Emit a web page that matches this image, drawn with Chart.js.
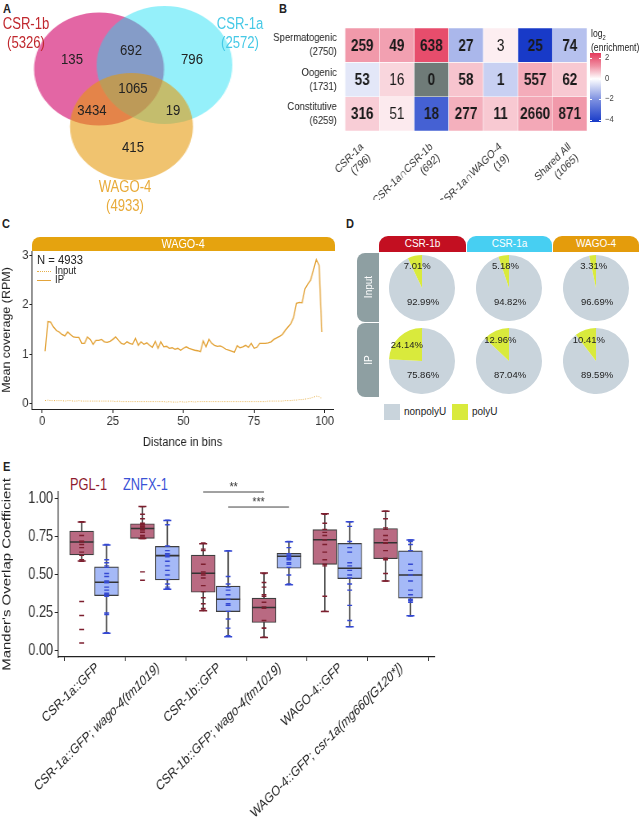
<!DOCTYPE html>
<html>
<head>
<meta charset="utf-8">
<script src="https://cdn.jsdelivr.net/npm/chart.js@4.4.1/dist/chart.umd.min.js"></script>
<style>
  body { margin: 0; width: 641px; height: 822px; position: relative; background: #fff; overflow: hidden;
         font-family: "Liberation Sans", Arial, sans-serif; color: #222; }
  canvas, .t, .box { position: absolute; }
  .t { white-space: nowrap; line-height: 1.1; transform-origin: 0 0; }
  .panel { font-weight: bold; font-size: 13px; transform: scaleX(0.85); }
  .strip { position: absolute; color: #fff; text-align: center; font-size: 10px; }
</style>
</head>
<body>

<div class="t panel" style="left:3px;top:2px">A</div>
<div class="t panel" style="left:279px;top:2px">B</div>
<div class="t panel" style="left:2px;top:217px">C</div>
<div class="t panel" style="left:346px;top:217px">D</div>
<div class="t panel" style="left:3px;top:460px">E</div>

<!-- A: venn -->
<canvas id="venn" width="209" height="200" style="left:0;top:0;transform:scaleX(1.15);transform-origin:0 0"></canvas>
<div id="vennText"></div>

<!-- B: heatmap -->
<canvas id="heat" width="439" height="200" style="left:230px;top:0;transform:scaleX(0.82);transform-origin:0 0"></canvas>
<div class="t" style="left:591px;top:28px;font-size:10.5px;transform:scaleX(0.82)">log<sub style="font-size:7px">2</sub><br>(enrichment)</div>
<div id="cbar" class="box" style="left:590px;top:53px;width:11px;height:69px"></div>
<div id="cbarTicks"></div>

<!-- C: profile -->
<div class="strip" style="left:32px;top:237px;width:303px;height:14px;line-height:14px;font-size:12px;background:#e5a30f;border-radius:8px 8px 0 0"><span style="display:inline-block;transform:scaleX(0.9)">WAGO-4</span></div>
<canvas id="profile" width="378" height="220" style="left:0;top:230px;transform:scaleX(0.9);transform-origin:0 0"></canvas>
<div class="t" style="left:37px;top:254px;font-size:12.5px;transform:scaleX(0.9)">N = 4933</div>
<div class="box" style="left:37px;top:271px;width:14px;border-top:1px dotted #e6b04a"></div>
<div class="t" style="left:55px;top:265px;font-size:10.5px;transform:scaleX(0.9)">Input</div>
<div class="box" style="left:37px;top:280px;width:14px;border-top:1.3px solid #e3a43b"></div>
<div class="t" style="left:55px;top:274px;font-size:10.5px;transform:scaleX(0.9)">IP</div>

<!-- D: pies -->
<div class="strip" style="left:379px;top:236px;width:87px;height:16px;line-height:16px;background:#c30f21;border-radius:9px 9px 0 0">CSR-1b</div>
<div class="strip" style="left:467px;top:236px;width:85px;height:16px;line-height:16px;background:#47cff2;border-radius:9px 9px 0 0">CSR-1a</div>
<div class="strip" style="left:553px;top:236px;width:86px;height:16px;line-height:16px;background:#e49c0c;border-radius:9px 9px 0 0">WAGO-4</div>
<div class="strip" style="left:357px;top:253px;width:22px;height:69px;background:#8e9fa2;border-radius:8px 0 0 8px"></div>
<div class="strip" style="left:357px;top:323px;width:22px;height:74px;background:#8e9fa2;border-radius:8px 0 0 8px"></div>
<div class="t" style="left:368px;top:287px;font-size:10px;color:#fff;transform:translate(-50%,-50%) rotate(-90deg);transform-origin:50% 50%">Input</div>
<div class="t" style="left:368px;top:360px;font-size:10px;color:#fff;transform:translate(-50%,-50%) rotate(-90deg);transform-origin:50% 50%">IP</div>
<div id="pies"></div>
<div class="box" style="left:384px;top:404px;width:16px;height:16px;background:#c9d4dc"></div>
<div class="t" style="left:404px;top:406px;font-size:10px">nonpolyU</div>
<div class="box" style="left:452px;top:404px;width:16px;height:16px;background:#d9ea3c"></div>
<div class="t" style="left:472px;top:406px;font-size:10px">polyU</div>

<!-- E: boxplots -->
<div class="t" style="left:70px;top:476px;font-size:16px;color:#8e1b2e;transform:scaleX(0.8)">PGL-1</div>
<div class="t" style="left:123px;top:476px;font-size:16px;color:#3a52d6;transform:scaleX(0.8)">ZNFX-1</div>
<canvas id="boxes" width="556" height="352" style="left:0;top:470px;transform:scaleX(0.8);transform-origin:0 0"></canvas>

<script>
// ---------- A: Venn ----------
const vennSets = ['CSR-1b', 'CSR-1a', 'WAGO-4'];
const vennTotals = [5326, 2572, 4933];
const vennRegions = ['CSR-1b', 'CSR-1b∩CSR-1a', 'CSR-1a', 'All', 'CSR-1b∩WAGO-4', 'CSR-1a∩WAGO-4', 'WAGO-4'];
const vennCounts = [135, 692, 796, 1065, 3434, 19, 415];

// ---------- B: heatmap ----------
const hmRows = ['Spermatogenic', 'Oogenic', 'Constitutive'];
const hmRowTotals = [2750, 1731, 6259];
const hmCols = ['CSR-1a', 'CSR-1b', 'CSR-1a∩CSR-1b', 'WAGO-4', 'CSR-1a∩WAGO-4', 'CSR-1b∩WAGO-4', 'Shared All'];
const hmColTotals = [796, 135, 692, 415, 19, 3434, 1065];
const spermCounts = [259, 49, 638, 27, 3, 25, 74];
const oogenicCounts = [53, 16, 0, 58, 1, 557, 62];
const constitutiveCounts = [316, 51, 18, 277, 11, 2660, 871];
const spermLog2 = [1.1, 1.0, 2.2, -1.2, 0.12, -4.2, -1.0];
const oogenicLog2 = [-0.3, 0.35, null, 0.55, -0.7, 0.85, 0.5];
const constitutiveLog2 = [0.45, 0.15, -3.2, 0.8, 0.5, 0.9, 1.1];
const spermBold = [1, 1, 1, 1, 0, 1, 1];
const oogenicBold = [1, 0, 1, 1, 1, 1, 1];
const constitutiveBold = [1, 0, 1, 1, 1, 1, 1];
const cbarTicks = [2, 0, -2, -4];

// ---------- C: coverage profile ----------
const binIP = [1.06, 1.66, 1.65, 1.55, 1.48, 1.45, 1.40, 1.37, 1.45, 1.40,
  1.35, 1.34, 1.34, 1.22, 1.22, 1.35, 1.30, 1.20, 1.28, 1.28,
  1.30, 1.25, 1.24, 1.26, 1.30, 1.35, 1.28, 1.22, 1.20, 1.25,
  1.22, 1.20, 1.32, 1.18, 1.25, 1.20, 1.23, 1.18, 1.14, 1.26,
  1.12, 1.25, 1.15, 1.16, 1.12, 1.13, 1.10, 1.12, 1.08, 1.12,
  1.15, 1.12, 1.10, 1.08, 1.07, 1.05, 1.27, 1.15, 1.30, 1.22,
  1.18, 1.16, 1.17, 1.14, 1.10, 1.08, 1.06, 1.04, 1.17, 1.13,
  1.15, 1.18, 1.14, 1.22, 1.12, 1.14, 1.22, 1.22, 1.22, 1.23,
  1.25, 1.30, 1.33, 1.36, 1.40, 1.48, 1.55, 1.62, 1.75, 2.03,
  2.05, 2.04, 2.32, 2.42, 2.50, 2.70, 2.92, 2.80, 1.45];
const binInput = [0.06, 0.07, 0.06, 0.06, 0.06, 0.06, 0.06, 0.05, 0.06, 0.06,
  0.05, 0.05, 0.06, 0.05, 0.05, 0.05, 0.05, 0.05, 0.05, 0.05,
  0.05, 0.05, 0.05, 0.05, 0.05, 0.04, 0.05, 0.04, 0.04, 0.04,
  0.04, 0.04, 0.04, 0.04, 0.04, 0.04, 0.04, 0.04, 0.04, 0.04,
  0.04, 0.04, 0.04, 0.03, 0.04, 0.03, 0.03, 0.03, 0.04, 0.03,
  0.03, 0.04, 0.04, 0.03, 0.04, 0.04, 0.04, 0.04, 0.04, 0.04,
  0.04, 0.04, 0.04, 0.04, 0.04, 0.04, 0.04, 0.04, 0.04, 0.04,
  0.04, 0.04, 0.04, 0.04, 0.04, 0.04, 0.04, 0.04, 0.04, 0.05,
  0.05, 0.05, 0.05, 0.05, 0.05, 0.06, 0.06, 0.06, 0.07, 0.07,
  0.08, 0.08, 0.09, 0.10, 0.11, 0.13, 0.15, 0.14, 0.10];
const xTicksC = [0, 25, 50, 75, 100];
const yTicksC = [0, 1, 2, 3];

// ---------- D: pies ----------
const pieProteins = ['CSR-1b', 'CSR-1a', 'WAGO-4'];
const pieFractions = ['Input', 'IP'];
const polyUInput = [7.01, 5.18, 3.31];
const nonpolyUInput = [92.99, 94.82, 96.69];
const polyUIP = [24.14, 12.96, 10.41];
const nonpolyUIP = [75.86, 87.04, 89.59];

// ---------- E: boxplots ----------
const eCategories = ['CSR-1a::GFP', 'CSR-1a::GFP; wago-4(tm1019)', 'CSR-1b::GFP',
  'CSR-1b::GFP; wago-4(tm1019)', 'WAGO-4::GFP', 'WAGO-4::GFP; csr-1a(mg660[G120*])'];
const pglQ1 = [0.632, 0.741, 0.386, 0.187, 0.570, 0.607];
const pglMedian = [0.717, 0.806, 0.511, 0.286, 0.732, 0.712];
const pglQ3 = [0.789, 0.837, 0.631, 0.347, 0.798, 0.806];
const pglLow = [0.592, 0.740, 0.264, 0.089, 0.259, 0.461];
const pglHigh = [0.848, 0.951, 0.706, 0.513, 0.903, 0.920];
const znfxQ1 = [0.364, 0.467, 0.259, 0.544, 0.476, 0.347];
const znfxMedian = [0.452, 0.627, 0.340, 0.623, 0.544, 0.500];
const znfxQ3 = [0.553, 0.688, 0.426, 0.642, 0.708, 0.658];
const znfxLow = [0.117, 0.406, 0.093, 0.435, 0.159, 0.231];
const znfxHigh = [0.697, 0.859, 0.658, 0.719, 0.850, 0.730];
const pglPoints = [
  [0.85, 0.85, 0.76, 0.72, 0.72, 0.72, 0.70, 0.68, 0.65, 0.63, 0.60, 0.59, 0.325, 0.233, 0.141, 0.052],
  [0.95, 0.90, 0.87, 0.84, 0.83, 0.83, 0.82, 0.82, 0.81, 0.81, 0.80, 0.79, 0.78, 0.76, 0.75, 0.74, 0.52, 0.465],
  [0.71, 0.67, 0.66, 0.57, 0.52, 0.51, 0.50, 0.48, 0.43, 0.39, 0.35, 0.31, 0.28, 0.27],
  [0.51, 0.45, 0.42, 0.37, 0.36, 0.32, 0.29, 0.28, 0.20, 0.15, 0.15, 0.09],
  [0.90, 0.84, 0.80, 0.78, 0.76, 0.73, 0.70, 0.65, 0.60, 0.57, 0.56, 0.36, 0.26],
  [0.92, 0.87, 0.81, 0.80, 0.76, 0.73, 0.71, 0.71, 0.66, 0.61, 0.60, 0.51, 0.46]
];
const znfxPoints = [
  [0.70, 0.60, 0.58, 0.56, 0.55, 0.51, 0.49, 0.46, 0.45, 0.45, 0.42, 0.40, 0.38, 0.37, 0.37, 0.36, 0.25, 0.24, 0.12],
  [0.86, 0.83, 0.69, 0.69, 0.66, 0.64, 0.64, 0.63, 0.62, 0.59, 0.56, 0.53, 0.50, 0.47, 0.44, 0.42, 0.41],
  [0.66, 0.49, 0.44, 0.42, 0.40, 0.37, 0.34, 0.31, 0.30, 0.30, 0.26, 0.21, 0.15, 0.10],
  [0.72, 0.68, 0.64, 0.63, 0.62, 0.61, 0.61, 0.60, 0.58, 0.57, 0.55, 0.50, 0.44],
  [0.85, 0.82, 0.72, 0.68, 0.65, 0.58, 0.56, 0.53, 0.50, 0.48, 0.44, 0.40, 0.30, 0.20, 0.16],
  [0.73, 0.72, 0.70, 0.66, 0.57, 0.53, 0.50, 0.46, 0.40, 0.37, 0.34, 0.33, 0.32, 0.23]
];
const sigLabels = ['**', '***'];
const yTicksE = [0, 0.25, 0.5, 0.75, 1];

const SANS = '"Liberation Sans", Arial, sans-serif';
Chart.defaults.font.family = SANS;
Chart.defaults.color = '#222';
Chart.defaults.animation = false;
Chart.defaults.plugins.legend.display = false;
Chart.defaults.plugins.tooltip.enabled = false;

function setTicks(values) {
  return scale => { scale.ticks = values.map(v => ({ value: v })); };
}

// ---------- A ----------
// order: pink at the bottom, cyan over it, orange on top
new Chart(document.getElementById('venn'), {
  type: 'bubble',
  data: {
    datasets: [
      { label: vennSets[0], data: [{ x: 86.1, y: 69, r: 56.5 }], backgroundColor: 'rgba(208, 0, 103, 0.6)', order: 3 },
      { label: vennSets[1], data: [{ x: 143.0, y: 65, r: 59 }], backgroundColor: 'rgba(20, 222, 245, 0.45)', order: 2 },
      { label: vennSets[2], data: [{ x: 114.3, y: 126.5, r: 53.5 }], backgroundColor: 'rgba(229, 153, 10, 0.59)', order: 1 }
    ].map(d => Object.assign(d, { borderWidth: 0, clip: false }))
  },
  options: {
    responsive: false,
    layout: { padding: 0, autoPadding: false },
    scales: {
      x: { display: false, min: 0, max: 209 },
      y: { display: false, min: 0, max: 200, reverse: true }
    }
  }
});

const vennLabelPos = [[72, 59], [131, 50], [192, 59], [133, 88], [92, 110], [173, 110], [133, 147]];
const vennNamePos = [[26, 14, '#c0282e'], [240, 14, '#46c9e6'], [125, 177, '#e8ab3a']];
let vennHtml = '';
vennCounts.forEach((c, i) => {
  vennHtml += `<div class="t" style="left:${vennLabelPos[i][0]}px;top:${vennLabelPos[i][1]}px;transform:translate(-50%,-50%) scaleX(0.85);transform-origin:50% 50%;font-size:15.5px;color:#222">${c}</div>`;
});
vennSets.forEach((s, i) => {
  const p = vennNamePos[i];
  vennHtml += `<div class="t" style="left:${p[0]}px;top:${p[1]}px;transform:translateX(-50%) scaleX(0.82);transform-origin:50% 0;text-align:center;font-size:16px;line-height:19px;color:${p[2]}">${s}<br>(${vennTotals[i]})</div>`;
});
document.getElementById('vennText').innerHTML = vennHtml;

// ---------- B ----------
const HM_HI = 2.5, HM_LO = -4.2;
function heatColor(v) {
  if (v === null) return '#6f7b78';
  const hi = [228, 58, 92], lo = [24, 58, 200];
  const c = v >= 0 ? hi : lo;
  const t = Math.pow(Math.min(1, v >= 0 ? v / HM_HI : v / HM_LO), 0.8);
  return 'rgb(' + c.map(k => Math.round(255 + (k - 255) * t)).join(',') + ')';
}
const hmCounts = [spermCounts, oogenicCounts, constitutiveCounts];
const hmLog2 = [spermLog2, oogenicLog2, constitutiveLog2];
const hmBold = [spermBold, oogenicBold, constitutiveBold];

const cellText = {
  id: 'cellText',
  afterDatasetsDraw(chart) {
    const ctx = chart.ctx;
    ctx.save();
    ctx.textAlign = 'center';
    ctx.textBaseline = 'middle';
    ctx.fillStyle = '#1a1a1a';
    chart.data.datasets.forEach((ds, ri) => {
      chart.getDatasetMeta(ri).data.forEach((bar, ci) => {
        ctx.font = (hmBold[ri][ci] ? 'bold ' : '') + '16.5px ' + SANS;
        ctx.fillText(hmCounts[ri][ci], bar.x, (bar.y + bar.base) / 2 + 1);
      });
    });
    ctx.restore();
  }
};

new Chart(document.getElementById('heat'), {
  type: 'bar',
  data: {
    labels: hmCols.map((c, i) => [c, '(' + hmColTotals[i] + ')']),
    datasets: hmRows.map((r, ri) => ({
      label: r,
      data: hmCols.map(() => [2 - ri, 3 - ri]),
      backgroundColor: hmLog2[ri].map(heatColor),
      borderColor: '#ffffff',
      borderWidth: 0.6,
      borderSkipped: false,
      barPercentage: 1,
      categoryPercentage: 1,
      grouped: false
    }))
  },
  options: {
    responsive: false,
    layout: { padding: { top: 28, right: 3.6, left: 0, bottom: 0 }, autoPadding: false },
    scales: {
      x: {
        grid: { display: false }, border: { display: false },
        // 39.4 deg before the 0.82 horizontal squeeze reads as 45 deg on the page
        ticks: { minRotation: 39.4, maxRotation: 39.4, font: { size: 11.5 }, color: '#333', padding: 1 },
        afterFit: s => { s.height = 69; }
      },
      y: {
        min: 0, max: 3,
        grid: { display: false }, border: { display: false },
        afterBuildTicks: setTicks([2.5, 1.5, 0.5]),
        ticks: {
          font: { size: 11.5 }, color: '#222', padding: 2,
          callback: v => { const ri = Math.round(2.5 - v); return [hmRows[ri], '(' + hmRowTotals[ri] + ')']; }
        },
        afterFit: s => { s.width = 140.2; }
      }
    }
  },
  plugins: [cellText]
});

// colour bar
const zeroPct = (HM_HI / (HM_HI - HM_LO) * 100).toFixed(1);
document.getElementById('cbar').style.background =
  `linear-gradient(to bottom, ${heatColor(HM_HI)} 0%, ${heatColor(1.2)} 19%, #ffffff ${zeroPct}%, ${heatColor(-2)} 67%, ${heatColor(HM_LO)} 100%)`;
document.getElementById('cbarTicks').innerHTML = cbarTicks.map(v => {
  const y = 53 + (HM_HI - v) / (HM_HI - HM_LO) * 69;
  return `<div class="box" style="left:590px;top:${y}px;width:2px;border-top:1px solid #fff"></div>` +
    `<div class="box" style="left:599px;top:${y}px;width:2px;border-top:1px solid #fff"></div>` +
    `<div class="t" style="left:605px;top:${y - 5}px;font-size:9px;color:#444;transform:scaleX(0.85)">${v < 0 ? '\u2212' + (-v) : v}</div>`;
}).join('');

// ---------- C ----------
new Chart(document.getElementById('profile'), {
  type: 'line',
  data: {
    datasets: [
      { label: 'Input', data: binInput.map((v, i) => ({ x: i + 1, y: v })), borderColor: '#e6b04a',
        borderWidth: 1, borderDash: [1, 1.5], pointRadius: 0, tension: 0 },
      { label: 'IP', data: binIP.map((v, i) => ({ x: i + 1, y: v })), borderColor: '#e3a43b',
        borderWidth: 1.3, pointRadius: 0, tension: 0 }
    ]
  },
  options: {
    responsive: false,
    layout: { padding: { top: 21, right: 7.8, left: 0, bottom: 0 }, autoPadding: false },
    scales: {
      x: {
        type: 'linear', min: -3.6, max: 103,
        afterBuildTicks: setTicks(xTicksC),
        grid: { display: true, drawOnChartArea: false, tickLength: 4, color: '#222' },
        border: { color: '#222', width: 1 },
        ticks: { font: { size: 12.5 }, color: '#333', padding: 1 },
        title: { display: true, text: 'Distance in bins', font: { size: 12.5 }, color: '#222', padding: 0 },
        afterFit: s => { s.height = 41; }
      },
      y: {
        min: -0.11, max: 3.09,
        afterBuildTicks: setTicks(yTicksC),
        grid: { display: true, drawOnChartArea: false, tickLength: 3, color: '#222' },
        border: { color: '#222', width: 1 },
        ticks: { font: { size: 12.5 }, color: '#333', padding: 1 },
        title: { display: true, text: 'Mean coverage (RPM)', font: { size: 12.5 }, color: '#222', padding: 0 },
        afterFit: s => { s.width = 35.6; }
      }
    }
  }
});

// ---------- D ----------
const pieLabels = {
  id: 'pieLabels',
  afterDatasetsDraw(chart) {
    const ctx = chart.ctx;
    const vals = chart.data.datasets[0].data;
    ctx.save();
    ctx.font = '9.5px ' + SANS;
    ctx.fillStyle = '#222';
    ctx.textAlign = 'center';
    ctx.textBaseline = 'middle';
    chart.getDatasetMeta(0).data.forEach((a, i) => {
      const mid = (a.startAngle + a.endAngle) / 2;
      let x = a.x + 1, y = a.y + 14;
      if (i === 1) { x = a.x + Math.cos(mid) * 22; y = a.y + Math.sin(mid) * 22; }
      ctx.fillText(vals[i].toFixed(2) + '%', x, y);
    });
    ctx.restore();
  }
};
const pieCenters = [[422, 288], [509, 288], [596, 288], [422, 361], [509, 361], [596, 361]];
const piesDiv = document.getElementById('pies');
pieFractions.forEach((frac, fi) => {
  pieProteins.forEach((prot, pi) => {
    const c = pieCenters[fi * 3 + pi];
    const cv = document.createElement('canvas');
    cv.width = 66; cv.height = 66;
    cv.style.left = (c[0] - 33) + 'px';
    cv.style.top = (c[1] - 33) + 'px';
    piesDiv.appendChild(cv);
    const non = fi === 0 ? nonpolyUInput[pi] : nonpolyUIP[pi];
    const pu = fi === 0 ? polyUInput[pi] : polyUIP[pi];
    new Chart(cv, {
      type: 'pie',
      data: {
        labels: ['nonpolyU', 'polyU'],
        datasets: [{ label: prot + ' ' + frac, data: [non, pu], backgroundColor: ['#c9d4dc', '#d9ea3c'], borderWidth: 0 }]
      },
      options: { responsive: false, layout: { padding: 0, autoPadding: false } },
      plugins: [pieLabels]
    });
  });
});

// ---------- E ----------
const PGL_OFF = -0.21, ZNFX_OFF = 0.2;
function boxDatasets(name, off, q1, med, q3, lo, hi, pts, fill, dot) {
  const xs = q1.map((_, i) => i + 1 + off);
  return [
    { type: 'bar', label: name + ' whiskers', data: xs.map((x, i) => ({ x, y: [lo[i], hi[i]] })),
      backgroundColor: '#4a4a4a', barThickness: 1.2, grouped: false, order: 5 },
    { type: 'bar', label: name, data: xs.map((x, i) => ({ x, y: [q1[i], q3[i]] })),
      backgroundColor: fill, borderColor: '#3e3e3e', borderWidth: 1.2, borderSkipped: false,
      barThickness: 30, grouped: false, order: 4 },
    { type: 'scatter', label: name + ' median', data: xs.map((x, i) => ({ x, y: med[i] })),
      pointStyle: 'line', pointRadius: 15, borderColor: '#333', borderWidth: 1.6, order: 3 },
    { type: 'scatter', label: name + ' caps', data: xs.flatMap((x, i) => [{ x, y: lo[i] }, { x, y: hi[i] }]),
      pointStyle: 'line', pointRadius: 5, borderColor: dot, borderWidth: 1.5, order: 2 },
    { type: 'scatter', label: name + ' points', data: xs.flatMap((x, i) => pts[i].map(v => ({ x, y: v }))),
      pointStyle: 'line', pointRadius: 3, borderColor: dot, borderWidth: 1.4, order: 1 }
  ];
}
const sigLines = [
  { type: 'line', label: sigLabels[0], data: [{ x: 3 + PGL_OFF, y: 1.046 }, { x: 4 + PGL_OFF, y: 1.046 }] },
  { type: 'line', label: sigLabels[1], data: [{ x: 3 + ZNFX_OFF, y: 0.947 }, { x: 4 + ZNFX_OFF, y: 0.947 }] }
].map(d => Object.assign(d, { borderColor: '#444', borderWidth: 1, pointRadius: 0, clip: false, order: 0 }));

const sigText = {
  id: 'sigText',
  afterDatasetsDraw(chart) {
    const ctx = chart.ctx;
    ctx.save();
    ctx.font = '13px ' + SANS;
    ctx.fillStyle = '#333';
    ctx.textAlign = 'center';
    chart.data.datasets.forEach((ds, di) => {
      if (!sigLabels.includes(ds.label)) return;
      const pts = chart.getDatasetMeta(di).data;
      ctx.fillText(ds.label, (pts[0].x + pts[1].x) / 2, pts[0].y - 1);
    });
    ctx.restore();
  }
};
// x labels with the genotype part in italics; 38.7 deg before the 0.8 squeeze = 45 deg on the page
const eLabels = {
  id: 'eLabels',
  afterDraw(chart) {
    const sc = chart.scales.x, ctx = chart.ctx;
    eCategories.forEach((cat, i) => {
      const cut = cat.indexOf('; ');
      const parts = cut < 0 ? [[cat, false]] : [[cat.slice(0, cut + 2), false], [cat.slice(cut + 2), true]];
      const fontOf = it => (it ? 'italic ' : '') + '14px ' + SANS;
      ctx.save();
      ctx.translate(sc.getPixelForValue(i + 1) + 4, sc.top + 9);
      ctx.rotate(-38.7 * Math.PI / 180);
      ctx.fillStyle = '#222';
      ctx.textBaseline = 'middle';
      ctx.textAlign = 'left';
      const widths = parts.map(p => { ctx.font = fontOf(p[1]); return ctx.measureText(p[0]).width; });
      let x = -widths.reduce((a, b) => a + b, 0);
      parts.forEach((p, j) => { ctx.font = fontOf(p[1]); ctx.fillText(p[0], x, 0); x += widths[j]; });
      ctx.restore();
    });
  }
};

new Chart(document.getElementById('boxes'), {
  type: 'bar',
  data: {
    datasets: [
      ...boxDatasets('PGL-1', PGL_OFF, pglQ1, pglMedian, pglQ3, pglLow, pglHigh, pglPoints, '#b96a82', '#7d1f2f'),
      ...boxDatasets('ZNFX-1', ZNFX_OFF, znfxQ1, znfxMedian, znfxQ3, znfxLow, znfxHigh, znfxPoints, '#a5b9f7', '#3448d2'),
      ...sigLines
    ]
  },
  options: {
    responsive: false,
    layout: { padding: { top: 22, right: 12.5, left: 0, bottom: 0 }, autoPadding: false },
    scales: {
      x: {
        type: 'linear', min: 0.4, max: 6.6, offset: false,
        afterBuildTicks: setTicks([1, 2, 3, 4, 5, 6]),
        grid: { display: true, drawOnChartArea: false, tickLength: 4, color: '#222' },
        border: { color: '#222', width: 1.2 },
        ticks: { color: 'rgba(0,0,0,0)', callback: v => eCategories[v - 1] },
        afterFit: s => { s.height = 165; }
      },
      y: {
        min: -0.04, max: 1.046,
        afterBuildTicks: setTicks(yTicksE),
        grid: { display: true, drawOnChartArea: false, tickLength: 4, color: '#222' },
        border: { color: '#222', width: 1.2 },
        ticks: { font: { size: 16 }, color: '#333', padding: 2, callback: v => v.toFixed(2) },
        title: { display: true, text: "Mander's Overlap Coefficient", font: { size: 15 }, color: '#222', padding: 0 },
        afterFit: s => { s.width = 72.5; }
      }
    }
  },
  plugins: [sigText, eLabels]
});
</script>
</body>
</html>
